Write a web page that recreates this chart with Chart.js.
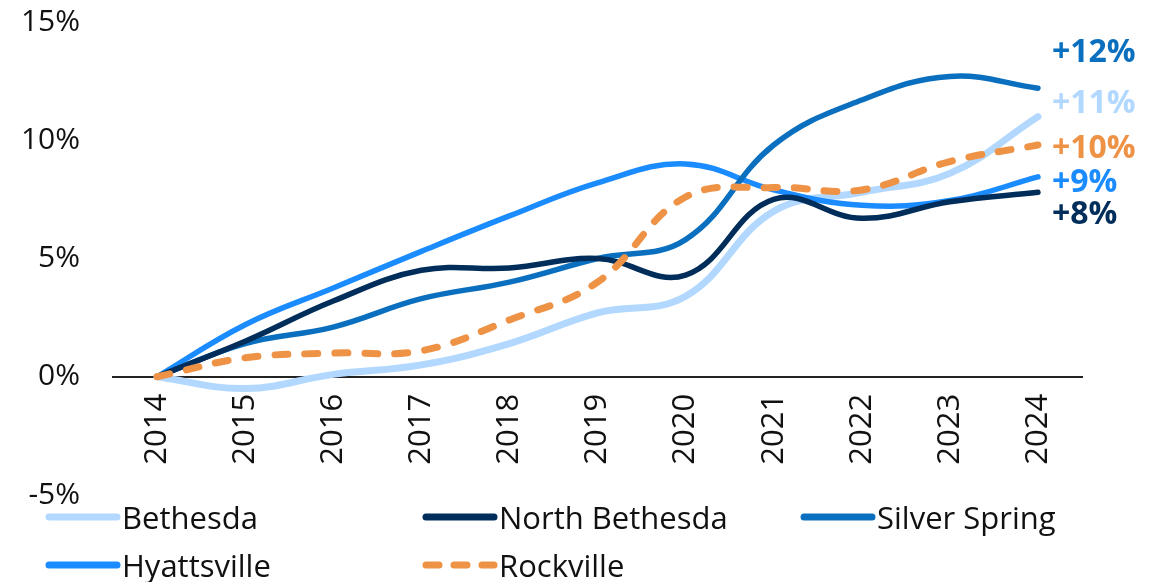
<!DOCTYPE html>
<html lang="en">

<head>
  <meta charset="UTF-8" />
  <title>Growth since 2014</title>
  <script src="https://cdn.jsdelivr.net/npm/chart.js"></script>
  <style>
    body { margin: 0; background: #fff; font-family: "Open Sans", sans-serif; }
    #wrap { position: relative; width: 1164px; height: 582px; }
    .legend-item { position: absolute; display: flex; align-items: center; font-size: 31px; color: #111; line-height: 1; }
    .legend-item svg { margin-right: 1px; }
  </style>
</head>

<body>
  <div id="wrap">
    <canvas id="lineChart" width="1164" height="582"></canvas>
    <div id="legend"></div>
  </div>

  <script>
    // Years on the x axis
    const years = ['2014', '2015', '2016', '2017', '2018', '2019', '2020', '2021', '2022', '2023', '2024'];

    // Cumulative change (%)
    const bethesda = [0, -0.5, 0.1, 0.5, 1.4, 2.7, 3.4, 7.0, 7.8, 8.6, 11.0];
    const northBethesda = [0, 1.5, 3.2, 4.5, 4.6, 5.0, 4.3, 7.5, 6.7, 7.4, 7.8];
    const silverSpring = [0, 1.4, 2.1, 3.3, 4.0, 5.0, 5.8, 9.8, 11.7, 12.7, 12.2];
    const hyattsville = [0, 2.2, 3.75, 5.3, 6.8, 8.2, 9.0, 7.9, 7.25, 7.45, 8.45];
    const rockville = [0, 0.8, 1.0, 1.1, 2.4, 4.0, 7.6, 8.0, 7.9, 9.1, 9.8];

    const seriesNames = ['Bethesda', 'North Bethesda', 'Silver Spring', 'Hyattsville', 'Rockville'];
    const seriesData = [bethesda, northBethesda, silverSpring, hyattsville, rockville];
    const seriesColors = ['#B2D8FF', '#002D5A', '#0A6FBE', '#1A8CFF', '#EE9246'];

    // End-of-line labels and the value level where each one sits
    const endLabels = ['+11%', '+8%', '+12%', '+9%', '+10%'];
    const endLabelLevels = [11.55, 6.85, 13.7, 8.2, 9.65];

    const yTicks = [-5, 0, 5, 10, 15];

    const datasets = seriesNames.map((name, i) => ({
      label: name,
      data: seriesData[i],
      borderColor: seriesColors[i],
      backgroundColor: seriesColors[i],
      borderWidth: i === 0 || i === 4 ? 7 : 5.5,
      borderDash: i === 4 ? [13, 17] : [],
      borderCapStyle: 'round',
      tension: 0.4,
      pointRadius: 0,
      fill: false,
      order: i === 4 ? 0 : (i === 0 ? 6 : 1)
    }));

    // Draws the bold "+x%" labels to the right of each line
    const endLabelPlugin = {
      id: 'endLabels',
      afterDatasetsDraw(chart) {
        const ctx = chart.ctx;
        const xs = chart.scales.x;
        const ys = chart.scales.y;
        ctx.save();
        ctx.font = 'bold 32px "Open Sans", sans-serif';
        ctx.textAlign = 'left';
        ctx.textBaseline = 'middle';
        endLabels.forEach((txt, i) => {
          ctx.fillStyle = seriesColors[i];
          ctx.fillText(txt, xs.getPixelForValue(years.length - 1) + 14, ys.getPixelForValue(endLabelLevels[i]));
        });
        ctx.restore();
      }
    };

    const ctx = document.getElementById('lineChart').getContext('2d');
    new Chart(ctx, {
      type: 'line',
      data: { labels: years, datasets: datasets },
      plugins: [endLabelPlugin],
      options: {
        responsive: false,
        animation: false,
        layout: { autoPadding: false, padding: { top: 22, right: 82, bottom: 87, left: 0 } },
        plugins: {
          legend: { display: false },
          tooltip: { enabled: false }
        },
        scales: {
          x: {
            type: 'category',
            offset: true,
            position: { y: 0 },
            grid: { display: false },
            border: { display: true, color: '#222', width: 2 },
            ticks: {
              minRotation: 90,
              maxRotation: 90,
              padding: 9,
              color: '#111',
              font: { family: 'Open Sans', size: 31 }
            }
          },
          y: {
            min: -5,
            max: 15,
            grid: { display: false },
            border: { display: false },
            afterFit: (scale) => {
              scale.width = 113;
              scale.paddingTop = 0;
              scale.paddingBottom = 0;
            },
            afterBuildTicks: (scale) => { scale.ticks = yTicks.map(v => ({ value: v })); },
            ticks: {
              padding: 25,
              color: '#111',
              font: { family: 'Open Sans', size: 30 },
              callback: (v) => v + '%'
            }
          }
        }
      }
    });

    // HTML legend laid out in fixed columns, like the original
    const legendCols = [45, 422, 800];
    const legendRows = [517, 565];
    const legendEl = document.getElementById('legend');
    seriesNames.forEach((name, i) => {
      const item = document.createElement('div');
      item.className = 'legend-item';
      item.style.left = legendCols[i % 3] + 'px';
      item.style.top = (legendRows[Math.floor(i / 3)] - 18) + 'px';
      item.style.height = '36px';
      const dash = i === 4 ? 'stroke-dasharray="13 15"' : '';
      item.innerHTML =
        '<svg width="76" height="12"><line x1="4" y1="6" x2="72" y2="6" stroke="' + seriesColors[i] +
        '" stroke-width="7" stroke-linecap="round" ' + dash + '/></svg><span>' + name + '</span>';
      legendEl.appendChild(item);
    });
  </script>
</body>

</html>
